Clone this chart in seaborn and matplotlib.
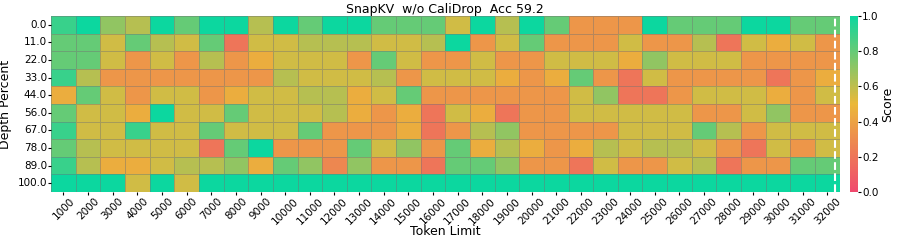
import matplotlib
matplotlib.use('Agg')
import matplotlib.pyplot as plt
from matplotlib.colors import LinearSegmentedColormap
import numpy as np
import pandas as pd
import seaborn as sns

token_limits = [1000, 2000, 3000, 4000, 5000, 6000, 7000, 8000, 9000, 10000,
                11000, 12000, 13000, 14000, 15000, 16000, 17000, 18000, 19000, 20000,
                21000, 22000, 23000, 24000, 25000, 26000, 27000, 28000, 29000, 30000,
                31000, 32000]
depths = [0.0, 11.0, 22.0, 33.0, 44.0, 56.0, 67.0, 78.0, 89.0, 100.0]

# scores, one list per depth
row_0 = [0.9, 1.0, 0.7, 0.62, 1.0, 0.8, 1.0, 1.0, 0.62, 1.0, 0.8, 1.0, 1.0, 0.8, 0.8, 0.8,
         0.56, 1.0, 0.62, 1.0, 0.8, 0.35, 0.35, 0.35, 1.0, 0.8, 0.8, 0.8, 1.0, 1.0, 0.8, 0.8]
row_11 = [0.8, 0.8, 0.56, 0.8, 0.62, 0.56, 0.8, 0.2, 0.56, 0.56, 0.62, 0.62, 0.62, 0.56, 0.56, 0.62,
          1.0, 0.35, 0.56, 0.8, 0.35, 0.35, 0.35, 0.56, 0.35, 0.35, 0.62, 0.2, 0.56, 0.45, 0.56, 0.35]
row_22 = [0.8, 0.8, 0.56, 0.35, 0.56, 0.35, 0.62, 0.35, 0.45, 0.56, 0.56, 0.56, 0.35, 0.8, 0.56, 0.35,
          0.35, 0.56, 0.35, 0.35, 0.56, 0.56, 0.56, 0.45, 0.7, 0.56, 0.56, 0.56, 0.35, 0.35, 0.35, 0.35]
row_33 = [0.9, 0.62, 0.35, 0.35, 0.35, 0.35, 0.35, 0.35, 0.35, 0.62, 0.56, 0.56, 0.56, 0.62, 0.35, 0.56,
          0.56, 0.56, 0.45, 0.35, 0.45, 0.8, 0.35, 0.2, 0.56, 0.35, 0.35, 0.35, 0.35, 0.2, 0.35, 0.45]
row_44 = [0.45, 0.8, 0.56, 0.35, 0.56, 0.56, 0.35, 0.45, 0.56, 0.56, 0.62, 0.62, 0.45, 0.56, 0.8, 0.35,
          0.35, 0.35, 0.35, 0.35, 0.35, 0.56, 0.7, 0.2, 0.2, 0.35, 0.56, 0.56, 0.56, 0.45, 0.35, 0.56]
row_56 = [0.8, 0.56, 0.56, 0.45, 1.0, 0.56, 0.56, 0.8, 0.56, 0.56, 0.56, 0.62, 0.45, 0.35, 0.45, 0.2,
          0.56, 0.45, 0.2, 0.35, 0.35, 0.56, 0.56, 0.56, 0.56, 0.56, 0.35, 0.35, 0.56, 0.7, 0.35, 0.35]
row_67 = [0.9, 0.56, 0.56, 0.9, 0.56, 0.56, 0.8, 0.56, 0.56, 0.56, 0.8, 0.35, 0.35, 0.35, 0.45, 0.2,
          0.35, 0.62, 0.7, 0.35, 0.35, 0.35, 0.35, 0.56, 0.56, 0.56, 0.8, 0.62, 0.35, 0.56, 0.56, 0.56]
row_78 = [0.8, 0.62, 0.56, 0.56, 0.56, 0.56, 0.2, 0.8, 1.0, 0.35, 0.35, 0.35, 0.8, 0.56, 0.7, 0.35,
          0.8, 0.45, 0.62, 0.45, 0.35, 0.45, 0.62, 0.56, 0.62, 0.62, 0.56, 0.35, 0.2, 0.56, 0.35, 0.56]
row_89 = [0.9, 0.62, 0.45, 0.45, 0.56, 0.62, 0.62, 0.7, 0.45, 0.8, 0.7, 0.28, 0.7, 0.35, 0.35, 0.2,
          0.8, 0.8, 0.7, 0.35, 0.35, 0.2, 0.56, 0.35, 0.35, 0.56, 0.62, 0.2, 0.35, 0.35, 0.8, 0.8]
row_100 = [1.0, 1.0, 1.0, 0.56, 1.0, 0.56, 1.0, 1.0, 1.0, 1.0, 1.0, 1.0, 1.0, 1.0, 1.0, 1.0,
           1.0, 1.0, 1.0, 1.0, 1.0, 1.0, 1.0, 1.0, 1.0, 1.0, 1.0, 1.0, 1.0, 1.0, 1.0, 1.0]

title = 'SnapKV  w/o CaliDrop  Acc 59.2'
context_marker = 31.8  # dashed line position (cell units)

scores = [row_0, row_11, row_22, row_33, row_44, row_56, row_67, row_78, row_89, row_100]
df = pd.DataFrame(scores, index=depths, columns=token_limits)

cmap = LinearSegmentedColormap.from_list('custom_cmap', ['#F0496E', '#EBB839', '#0CD79F'])

fig = plt.figure(figsize=(8.97, 2.41), dpi=100)
ax = fig.add_axes([0.057, 0.203, 0.879, 0.731])
cax = fig.add_axes([0.9476, 0.203, 0.009, 0.731])

sns.heatmap(df, ax=ax, cbar_ax=cax, cmap=cmap, vmin=0, vmax=1,
            linewidths=0.6, linecolor=(0.45, 0.45, 0.45, 0.45))

ax.axvline(context_marker, color='white', linestyle='--', linewidth=1.5)

ax.set_title(title, fontsize=9, pad=2)
ax.set_xlabel('Token Limit', fontsize=9, labelpad=-1)
ax.set_ylabel('Depth Percent', fontsize=9)
ax.set_xticklabels(token_limits, rotation=45, fontsize=7.5)
ax.set_yticklabels(depths, rotation=0, fontsize=7.5)
ax.tick_params(length=2, pad=1)

cax.tick_params(labelsize=7.5, length=2, pad=1)
cax.set_yticks([0.0, 0.2, 0.4, 0.6, 0.8, 1.0])
cax.set_yticklabels(['0.0', '0.2', '0.4', '0.6', '0.8', '1.0'])
cax.set_ylabel('Score', fontsize=9, labelpad=2)

fig.savefig('out.png', dpi=100)
